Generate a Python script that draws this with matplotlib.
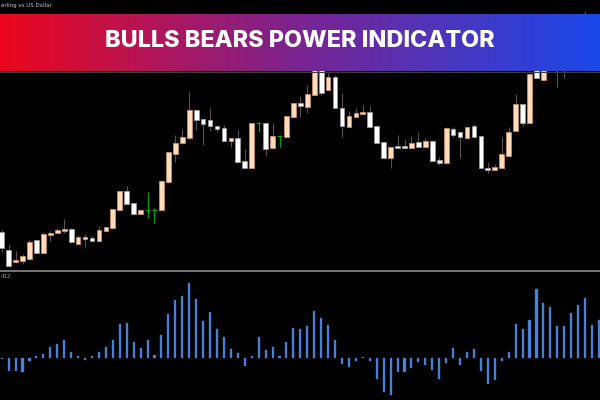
import numpy as np
import matplotlib
matplotlib.use("Agg")
import matplotlib.pyplot as plt
from matplotlib.lines import Line2D

# ---------------- data ----------------
title = "BULLS BEARS POWER INDICATOR"
symbol_text = "erling vs US Dollar"
ind_text = "412"

opens = [1.288, 1.270, 1.258, 1.259, 1.261, 1.280, 1.267, 1.285, 1.287, 1.289,
         1.291, 1.276, 1.283, 1.282, 1.279, 1.289, 1.292, 1.310, 1.329, 1.317,
         1.306, 1.310, 1.310, 1.310, 1.338, 1.366, 1.377, 1.382, 1.410, 1.401,
         1.400, 1.394, 1.392, 1.379, 1.382, 1.359, 1.352, 1.397, 1.397, 1.372,
         1.384, 1.383, 1.403, 1.417, 1.413, 1.425, 1.460, 1.430, 1.443, 1.412,
         1.393, 1.403, 1.406, 1.408, 1.394, 1.378, 1.362, 1.374, 1.374, 1.372,
         1.378, 1.373, 1.379, 1.360, 1.357, 1.391, 1.388, 1.382, 1.394, 1.384,
         1.352, 1.350, 1.352, 1.364, 1.389, 1.416, 1.397, 1.460, 1.440, 1.455,
         1.470, 1.458, 1.465, 1.475, 1.490, 1.478, 1.472]
highs = [1.290, 1.276, 1.269, 1.266, 1.280, 1.280, 1.288, 1.289, 1.292, 1.301,
         1.292, 1.285, 1.286, 1.284, 1.294, 1.293, 1.311, 1.329, 1.334, 1.317,
         1.310, 1.328, 1.312, 1.340, 1.368, 1.385, 1.391, 1.428, 1.410, 1.401,
         1.412, 1.394, 1.395, 1.382, 1.390, 1.371, 1.397, 1.398, 1.397, 1.397,
         1.385, 1.404, 1.417, 1.424, 1.435, 1.460, 1.462, 1.447, 1.445, 1.427,
         1.409, 1.412, 1.415, 1.414, 1.394, 1.378, 1.373, 1.385, 1.381, 1.384,
         1.388, 1.382, 1.380, 1.363, 1.393, 1.393, 1.388, 1.393, 1.396, 1.384,
         1.358, 1.356, 1.383, 1.393, 1.426, 1.416, 1.447, 1.463, 1.462, 1.478,
         1.480, 1.490, 1.495, 1.500, 1.509, 1.485, 1.495]
lows = [1.268, 1.253, 1.257, 1.256, 1.260, 1.267, 1.267, 1.279, 1.287, 1.287,
        1.277, 1.276, 1.272, 1.279, 1.279, 1.289, 1.292, 1.310, 1.316, 1.305,
        1.306, 1.302, 1.297, 1.309, 1.337, 1.358, 1.376, 1.381, 1.390, 1.375,
        1.389, 1.388, 1.379, 1.373, 1.358, 1.352, 1.352, 1.388, 1.364, 1.372,
        1.373, 1.383, 1.402, 1.403, 1.407, 1.425, 1.425, 1.430, 1.412, 1.383,
        1.393, 1.403, 1.406, 1.393, 1.377, 1.361, 1.352, 1.372, 1.372, 1.372,
        1.373, 1.373, 1.359, 1.355, 1.356, 1.383, 1.362, 1.381, 1.383, 1.352,
        1.347, 1.350, 1.352, 1.364, 1.389, 1.394, 1.397, 1.442, 1.440, 1.452,
        1.433, 1.442, 1.460, 1.470, 1.470, 1.462, 1.468]
closes = [1.272, 1.254, 1.260, 1.264, 1.278, 1.267, 1.286, 1.287, 1.290, 1.291,
          1.278, 1.283, 1.281, 1.279, 1.290, 1.293, 1.311, 1.329, 1.316, 1.306,
          1.310, 1.310, 1.310, 1.339, 1.368, 1.377, 1.383, 1.410, 1.400, 1.396,
          1.394, 1.391, 1.379, 1.382, 1.358, 1.352, 1.397, 1.397, 1.371, 1.384,
          1.384, 1.404, 1.417, 1.414, 1.426, 1.458, 1.427, 1.443, 1.412, 1.394,
          1.404, 1.407, 1.408, 1.393, 1.377, 1.362, 1.373, 1.372, 1.372, 1.377,
          1.373, 1.379, 1.359, 1.357, 1.392, 1.385, 1.383, 1.393, 1.383, 1.352,
          1.350, 1.353, 1.366, 1.388, 1.416, 1.397, 1.446, 1.442, 1.458, 1.475,
          1.452, 1.480, 1.490, 1.498, 1.475, 1.470, 1.492]

# Bulls power histogram (in points, 1 point = 0.0001)
bulls_power = [-1.0, -12.7, -12.7, -13.7, -3.3, 2.3, 4.3, 10.7, 14.3, 17.7,
               5.7, 1.7, -1.7, 1.7, 6.3, 10.7, 18.0, 33.7, 34.7, 16.3,
               10.3, 17.7, 2.7, 22.7, 44.3, 58.3, 62.3, 75.3, 59.3, 36.7,
               45.7, 29.3, 21.3, 9.0, 5.3, -7.7, 2.3, 21.0, 7.7, 11.3,
               2.3, 16.3, 30.0, 29.3, 32.3, 47.3, 40.0, 33.3, 18.3, -5.7,
               -9.3, -2.7, 1.3, -3.3, -20.7, -33.7, -37.3, -14.3, -14.3, -10.0,
               -4.3, -7.3, -12.3, -21.3, -5.0, 10.0, -6.7, 6.3, 8.7, -13.0,
               -26.0, -22.3, -3.3, 6.3, 34.3, 29.3, 37.7, 69.3, 55.0, 51.3,
               32.3, 31.7, 44.7, 53.0, 60.3, 33.3, 37.7]

# ---------------- styles ----------------
BULL_FILL = "#ffdcbc"
BULL_EDGE = "#c98a66"
BEAR_FILL = "#ffffff"
BEAR_EDGE = "#9a9a9a"
WICK = "#5e5050"
DOJI = "#00a000"
HIST = "#4f86df"

W, H = 600, 400
fig = plt.figure(figsize=(6, 4), dpi=100, facecolor="black")

n = len(opens)
x = np.arange(n)
step = 6.945
x0 = 1.7
xlim = (-x0 / step, (W - x0) / step)

# price panel: pixel rows 0..270
ax1 = fig.add_axes([0, 1 - 270 / H, 1, 270 / H])
ax1.set_facecolor("black")
ax1.set_xlim(*xlim)
ax1.set_ylim(1.25, 1.52)
ax1.set_axis_off()

o = np.array(opens); c = np.array(closes)
hi = np.array(highs); lo = np.array(lows)
doji = np.isclose(o, c)
bull = (c > o) & ~doji
bear = (c < o) & ~doji

ax1.vlines(x[~doji], lo[~doji], hi[~doji], color=WICK, linewidth=0.8, zorder=1)
ax1.vlines(x[doji], lo[doji], hi[doji], color=DOJI, linewidth=0.9, zorder=1)
ax1.hlines(o[doji], x[doji] - 0.38, x[doji] + 0.38, color=DOJI, linewidth=0.9, zorder=2)

bw = 0.68
ax1.bar(x[bull], (c - o)[bull], bottom=o[bull], width=bw,
        color=BULL_FILL, edgecolor=BULL_EDGE, linewidth=0.6, zorder=3)
ax1.bar(x[bear], (o - c)[bear], bottom=c[bear], width=bw,
        color=BEAR_FILL, edgecolor=BEAR_EDGE, linewidth=0.6, zorder=3)

# indicator panel: pixel rows 272..400
ax2 = fig.add_axes([0, 0, 1, 128 / H])
ax2.set_facecolor("black")
ax2.set_xlim(*xlim)
ax2.set_ylim(-42, 86)
ax2.set_axis_off()
ax2.bar(x, bulls_power, width=0.3, color=HIST, edgecolor="#3a66b8", linewidth=0.3)

# separator line
fig.add_artist(Line2D([0, 1], [1 - 270.8 / H] * 2, color="#8a8a8a",
                      linewidth=1.2, transform=fig.transFigure))

# small texts
fig.text(1 / W, 1 - 5.5 / H, symbol_text, color="#c8c8c8", fontsize=4.0,
         ha="left", va="center")
fig.text(1 / W, 1 - 276 / H, ind_text, color="#a0a0a0", fontsize=4.0,
         ha="left", va="center")

# banner with gradient
axb = fig.add_axes([0, 1 - 71 / H, 1, 57 / H])
stops = np.array([[236, 6, 28], [122, 36, 146], [26, 72, 234]]) / 255.0
t = np.linspace(0, 1, 600)
grad = np.empty((1, 600, 3))
for k in range(3):
    grad[0, :, k] = np.interp(t, [0, 0.5, 1], stops[:, k])
axb.imshow(grad, aspect="auto", extent=(0, 1, 0, 1))
axb.set_xlim(0, 1); axb.set_ylim(0, 1)
axb.set_axis_off()
axb.text(0.5, 0.52, title, color="white", fontsize=16.8, fontweight="heavy",
         family=["Inter", "DejaVu Sans"], ha="center", va="center")
fig.add_artist(Line2D([0, 1], [1 - 71.5 / H] * 2, color="#3c3c3c",
                      linewidth=0.8, transform=fig.transFigure))

fig.savefig("out.png", dpi=100, facecolor="black")
